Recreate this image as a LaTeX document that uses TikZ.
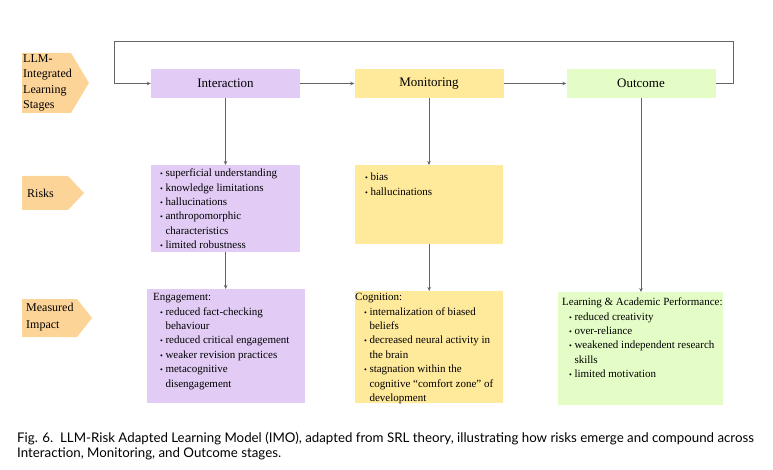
\documentclass[tikz,border=0pt]{standalone}
\usepackage{fontspec}
\setmainfont{Liberation Serif}
\newfontfamily\capfont{Lato}
\usetikzlibrary{arrows.meta}

\definecolor{lilac}{RGB}{226,204,246}
\definecolor{sand}{RGB}{255,233,155}
\definecolor{mint}{RGB}{228,253,198}
\definecolor{peach}{RGB}{253,212,152}
\definecolor{wire}{RGB}{100,100,100}

\newcommand{\bul}{{\footnotesize\textbullet}}

\tikzset{
  stage/.style={minimum width=149pt, minimum height=29pt, inner sep=0pt,
    font=\fontsize{13}{15}\selectfont},
  panel/.style={anchor=north west, inner sep=0pt},
  listtxt/.style={anchor=north west, inner sep=0pt, font=\fontsize{11}{14.4}\selectfont},
  tagtxt/.style={anchor=west, align=left, inner sep=0pt},
  flow/.style={draw=wire, line width=0.8pt, ->},
}

\begin{document}
\begin{tikzpicture}[x=1pt, y=-1pt, >={Stealth[length=4pt,width=3.5pt]}]
  \useasboundingbox (0,0) rectangle (773,470);

  % row labels
  \fill[peach] (22,53) -- (71,53) -- (89,83) -- (71,113) -- (22,113) -- cycle;
  \node[tagtxt, font=\fontsize{12}{15.5}\selectfont] (tagstages) at (23,83) {LLM-\\Integrated\\Learning\\Stages};
  \fill[peach] (22,176) -- (68,176) -- (84,193) -- (68,210) -- (22,210) -- cycle;
  \node[tagtxt, font=\fontsize{12}{15.5}\selectfont] (tagrisks) at (27,193) {Risks};
  \fill[peach] (22,299) -- (77,299) -- (92,318) -- (77,337) -- (22,337) -- cycle;
  \node[tagtxt, font=\fontsize{12}{17}\selectfont] (tagimpact) at (26,317) {Measured\\Impact};

  % stages
  \node[stage, fill=lilac] (inter) at (225.5,83.5) {Interaction};
  \node[stage, fill=sand] (monit) at (429,83.5) {Monitoring};
  \node[stage, fill=mint] (outcome) at (641,83.5) {Outcome};

  % risk boxes
  \node[panel, fill=lilac, minimum width=149pt, minimum height=87pt] (intrisk) at (151,165) {};
  \node[panel, fill=sand, minimum width=148pt, minimum height=79pt] (monrisk) at (355,165) {};

  % impact boxes
  \node[panel, fill=lilac, minimum width=158pt, minimum height=114pt] (intimp) at (147,289) {};
  \node[panel, fill=sand, minimum width=148pt, minimum height=112pt] (monimp) at (355,291) {};
  \node[panel, fill=mint, minimum width=165pt, minimum height=113pt] (outimp) at (558,292) {};

  % texts
  \node[listtxt] (intrisktxt) at (160,166.4) {\begin{tabular}{@{}l@{\hspace{2.5pt}}l@{}}
    \bul & superficial understanding\\
    \bul & knowledge limitations\\
    \bul & hallucinations\\
    \bul & anthropomorphic\\
         & characteristics\\
    \bul & limited robustness
  \end{tabular}};
  \node[listtxt] (monrisktxt) at (365,170.4) {\begin{tabular}{@{}l@{\hspace{2.5pt}}l@{}}
    \bul & bias\\
    \bul & hallucinations
  \end{tabular}};
  \node[listtxt] (intimptxt) at (153,290.4) {\begin{tabular}{@{}l@{\hspace{2.5pt}}l@{}}
    \multicolumn{2}{@{}l@{}}{Engagement:}\\
    \hspace{7pt}\bul & reduced fact-checking\\
         & behaviour\\
    \hspace{7pt}\bul & reduced critical engagement\\
    \hspace{7pt}\bul & weaker revision practices\\
    \hspace{7pt}\bul & metacognitive\\
         & disengagement
  \end{tabular}};
  \node[listtxt] (monimptxt) at (355,290.4) {\begin{tabular}{@{}l@{\hspace{2.5pt}}l@{}}
    \multicolumn{2}{@{}l@{}}{Cognition:}\\
    \hspace{9pt}\bul & internalization of biased\\
         & beliefs\\
    \hspace{9pt}\bul & decreased neural activity in\\
         & the brain\\
    \hspace{9pt}\bul & stagnation within the\\
         & cognitive “comfort zone” of\\
         & development
  \end{tabular}};
  \node[listtxt] (outimptxt) at (562,295.4) {\begin{tabular}{@{}l@{\hspace{2.5pt}}l@{}}
    \multicolumn{2}{@{}l@{}}{Learning \& Academic Performance:}\\
    \hspace{7pt}\bul & reduced creativity\\
    \hspace{7pt}\bul & over-reliance\\
    \hspace{7pt}\bul & weakened independent research\\
         & skills\\
    \hspace{7pt}\bul & limited motivation
  \end{tabular}};

  % connectors
  \coordinate (loopR) at (733,41);
  \coordinate (loopL) at (114,83.5);
  \draw[flow] (inter) -- (monit);
  \draw[flow] (monit) -- (outcome);
  \draw[flow] (outcome.east) -| (loopR) -| (loopL) -- (inter.west);
  \draw[flow] (inter.south) -- (inter.south |- intrisk.north);
  \draw[flow] (intrisk.south) -- (intrisk.south |- intimp.north);
  \draw[flow] (monit.south) -- (monit.south |- monrisk.north);
  \draw[flow] (monrisk.south) -- (monrisk.south |- monimp.north);
  \draw[flow] (outcome.south) -- (outcome.south |- outimp.north);

  % caption
  \node[anchor=north west, inner sep=0pt, align=left, font=\capfont\fontsize{13.3}{15.5}\selectfont] (caption) at (17,431.5)
    {Fig. 6.\ \ LLM-Risk Adapted Learning Model (IMO), adapted from SRL theory, illustrating how risks emerge and compound across\\
     Interaction, Monitoring, and Outcome stages.};
\end{tikzpicture}
\end{document}
